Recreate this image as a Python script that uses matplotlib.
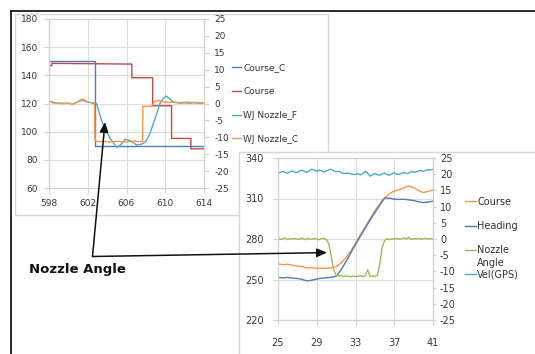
import matplotlib
matplotlib.use('Agg')
import matplotlib.pyplot as plt
from matplotlib.patches import Rectangle, FancyArrowPatch
from matplotlib.lines import Line2D

plt.rcParams['font.family'] = ['DejaVu Sans']
plt.rcParams['axes.unicode_minus'] = False

# ---------------- data: upper chart ----------------
top_x_ticks = [598, 602, 606, 610, 614]
top_left_ticks = [60, 80, 100, 120, 140, 160, 180]
right_ticks = [-25, -20, -15, -10, -5, 0, 5, 10, 15, 20, 25]

course_c_t = [598, 602.7, 602.7, 614]
course_c_v = [150, 150, 90, 90]

course_t = [598, 598.3, 598.3, 606.55, 606.55, 608.7, 608.7, 610.65, 610.65, 612.65, 612.65, 614]
course_v = [147, 147, 148.5, 148, 138.3, 138.3, 118.4, 118.4, 95.2, 95.2, 87.8, 87.8]

nozzle_f_t = [598, 598.5, 599, 599.5, 600, 600.5, 601, 601.5, 602, 602.5, 602.9,
              603.26, 603.6, 604.3, 605.0, 605.4, 605.85, 606.2, 606.55, 607.05, 607.57,
              608.0, 608.4, 608.76, 609.1, 609.45, 609.8, 610.07, 610.4, 610.8, 611.5,
              612, 612.5, 613, 613.5, 614]
nozzle_f_v = [0.7, 0.3, 0.1, 0.0, 0.1, -0.2, 0.5, 1.0, 0.4, 0.2, 0.0,
              -3.4, -6.4, -10.3, -13.0, -12.2, -10.6, -10.8, -11.3, -12.3, -12.0,
              -11.2, -9.0, -6.0, -3.2, 0.0, 1.5, 2.2, 1.5, 0.5, 0.1,
              0.2, 0.1, 0.2, 0.1, 0.2]

nozzle_c_t = [598, 598.25, 598.5, 598.75, 599, 599.25, 599.5, 599.75, 600, 600.25,
              600.5, 600.75, 601, 601.25, 601.55, 601.75, 602, 602.25, 602.5, 602.7,
              602.75, 603.2, 603.7, 604.2, 604.7, 605.2, 605.7, 606.2, 606.7, 607.2,
              607.67, 607.7, 608.2, 608.6, 608.9, 609.3, 609.7, 610.2, 610.8, 611.5,
              612.2, 612.9, 613.5, 614]
nozzle_c_v = [0.7, 0.4, 0.1, 0.2, 0.0, 0.1, 0.0, 0.1, 0.0, 0.0,
              -0.3, 0.2, 0.6, 1.1, 1.3, 0.8, 0.5, 0.3, 0.1, -0.2,
              -11.1, -11.3, -11.2, -11.4, -11.3, -11.2, -11.4, -11.3, -11.1, -11.3,
              -11.2, -0.8, -0.9, -0.8, 0.6, 0.9, 0.5, 0.4, 0.3, 0.3,
              0.4, 0.3, 0.3, 0.2]

# ---------------- data: lower chart ----------------
bot_x_ticks = [25, 29, 33, 37, 41]
bot_left_ticks = [220, 250, 280, 310, 340]

t_half = [25, 25.5, 26, 26.5, 27, 27.5, 28, 28.5, 29, 29.5, 30, 30.5, 31, 31.5, 32, 32.5,
          33, 33.5, 34, 34.5, 35, 35.5, 36, 36.5, 37, 37.5, 38, 38.5, 39, 39.5, 40, 40.5, 41]
course2_v = [261.5, 261.0, 261.3, 260.5, 260.0, 259.5, 258.5, 258.8, 258.2, 258.5, 258.3,
             258.6, 259.5, 262.0, 266.0, 271.0, 277.0, 283.0, 289.0, 295.0, 301.0, 306.0,
             310.5, 313.5, 315.5, 316.5, 318.0, 319.2, 318.0, 316.0, 314.3, 315.3, 316.3]
heading_v = [251.6, 251.2, 251.5, 251.0, 250.8, 250.0, 249.0, 249.5, 250.3, 251.0, 251.3,
             251.6, 252.5, 257.0, 263.0, 269.5, 276.0, 282.0, 288.0, 294.0, 299.5, 305.0,
             310.3, 310.3, 309.5, 309.3, 309.5, 309.0, 308.5, 307.6, 307.0, 307.4, 308.0]

t_quarter = [25 + 0.25 * i for i in range(65)]
nozzle2_v = [0.2, -0.1, 0.1, 0.3, -0.2, 0.1, 0.0, 0.2, -0.1, 0.0, 0.3, -0.2, 0.1, 0.0, -0.1, 0.2,
             0.0, -0.2, 0.1, 0.2, -0.3, -1.5, -5.5, -9.5, -11.2, -11.5, -11.3, -11.6, -11.4, -11.5,
             -11.7, -11.4, -11.6, -11.5, -11.3, -11.6, -11.4, -9.5, -11.5, -11.4, -11.6, -11.2,
             -8.0, -2.5, -0.6, 0.1, -0.2, 0.1, 0.0, 0.2, -0.1, 0.1, 0.3, 0.0, 0.5, -0.1, 0.1,
             0.0, 0.2, -0.1, 0.1, 0.2, 0.0, 0.1, 0.0]
vel_v = [20.3, 20.6, 20.9, 20.5, 20.3, 20.8, 21.0, 20.6, 20.5, 21.0, 21.2, 20.8, 20.6, 21.1,
         21.6, 21.2, 20.9, 21.3, 21.0, 20.7, 21.0, 21.4, 21.5, 21.0, 20.8, 20.9, 20.6, 20.3,
         20.2, 20.4, 20.1, 19.9, 20.0, 20.2, 19.8, 20.1, 20.9, 20.4, 19.4, 19.8, 20.2, 19.9,
         19.7, 20.0, 20.3, 19.9, 19.7, 20.1, 20.4, 20.0, 19.9, 20.3, 20.5, 20.2, 20.4, 20.8,
         20.6, 20.7, 21.0, 21.1, 20.9, 21.2, 21.4, 21.3, 21.5]

# ---------------- colours ----------------
C_BLUE = '#4a7ebb'
C_RED = '#be4b48'
C_TEAL = '#4bacc6'
C_ORANGE = '#f79646'
C_GREEN = '#9bbb59'
GRID = '#dcdcdc'
SPINE = '#d0d0d0'
LABEL = '#383838'

W, H = 535, 354
fig = plt.figure(figsize=(W / 100, H / 100), dpi=100)


def fx(px):
    return px / W


def fy(py):
    return 1 - py / H


def rect(x0, y0, x1, y1, z):
    r = Rectangle((fx(x0), fy(y1)), fx(x1) - fx(x0), fy(y0) - fy(y1), transform=fig.transFigure,
                  facecolor='white', edgecolor='#d6d6d6', lw=1.0, zorder=z)
    fig.add_artist(r)


# outer black frame (top and left visible)
fig.add_artist(Line2D([fx(11), 1.01], [fy(11), fy(11)], transform=fig.transFigure, color='#1a1a1a', lw=1.3, zorder=0.05))
fig.add_artist(Line2D([fx(11), fx(11)], [fy(11), -0.01], transform=fig.transFigure, color='#1a1a1a', lw=1.3, zorder=0.05))

rect(15, 14, 328, 215, 0.1)
rect(239, 152, 545, 365, 0.3)


def style_axes(ax, axr, xt, lt, fs, lpad, xpad, rpad, rlen):
    for a in (ax, axr):
        for s in a.spines.values():
            s.set_color(SPINE)
            s.set_linewidth(0.8)
    ax.patch.set_visible(False)
    ax.set_axisbelow(True)
    ax.grid(True, color=GRID, lw=0.8)
    ax.set_xticks(xt)
    ax.set_yticks(lt)
    axr.set_yticks(right_ticks)
    ax.tick_params(axis='y', length=3.5, color=SPINE, pad=lpad, labelsize=fs, labelcolor=LABEL)
    ax.tick_params(axis='x', length=3.5, color=SPINE, pad=xpad, labelsize=fs, labelcolor=LABEL)
    axr.tick_params(axis='y', length=rlen, color=SPINE, pad=rpad, labelsize=fs, labelcolor=LABEL)


# ---------------- upper chart ----------------
ax1 = fig.add_axes([fx(49), fy(188), fx(204) - fx(49), fy(19) - fy(188)])
ax1.set_zorder(0.2)
ax1r = ax1.twinx()
ax1r.set_zorder(0.21)
LW = 1.0
l1, = ax1.plot(course_c_t, course_c_v, color=C_BLUE, lw=LW, label='Course_C')
l2, = ax1.plot(course_t, course_v, color=C_RED, lw=LW, label='Course')
l3, = ax1r.plot(nozzle_f_t, nozzle_f_v, color=C_TEAL, lw=LW, label='WJ Nozzle_F')
l4, = ax1r.plot(nozzle_c_t, nozzle_c_v, color=C_ORANGE, lw=LW, label='WJ Nozzle_C')
ax1.set_xlim(598, 614)
ax1.set_ylim(60, 180)
ax1r.set_ylim(-25, 25)
style_axes(ax1, ax1r, top_x_ticks, top_left_ticks, 6.5, 4.5, 4.2, 4.0, 3.5)

fig.legend([l1, l2, l3, l4], [l.get_label() for l in (l1, l2, l3, l4)], loc='upper left',
           bbox_to_anchor=(fx(232), fy(62.7)), bbox_transform=fig.transFigure, frameon=False,
           borderpad=0, borderaxespad=0, handlelength=1.0, handletextpad=0.25, labelspacing=1.66,
           fontsize=6.5, labelcolor='#333333')

# ---------------- lower chart ----------------
ax2 = fig.add_axes([fx(278), fy(320), fx(433) - fx(278), fy(158) - fy(320)])
ax2.set_zorder(0.4)
ax2r = ax2.twinx()
ax2r.set_zorder(0.41)
m1, = ax2.plot(t_half, course2_v, color=C_ORANGE, lw=LW, label='Course')
m2, = ax2.plot(t_half, heading_v, color=C_BLUE, lw=LW, label='Heading')
m3, = ax2r.plot(t_quarter, nozzle2_v, color=C_GREEN, lw=LW, label='Nozzle')
m4, = ax2r.plot(t_quarter, vel_v, color=C_TEAL, lw=LW, label='Vel(GPS)')
ax2.set_xlim(25, 41)
ax2.set_ylim(220, 340)
ax2r.set_ylim(-25, 25)
style_axes(ax2, ax2r, bot_x_ticks, bot_left_ticks, 7, 7, 9.2, 2.5, 2.5)

fig.legend([m1, m2, m3, m4], [m.get_label() for m in (m1, m2, m3, m4)], loc='upper left',
           bbox_to_anchor=(fx(465), fy(196.7)), bbox_transform=fig.transFigure, frameon=False,
           borderpad=0, borderaxespad=0, handlelength=1.13, handletextpad=0.12, labelspacing=1.47,
           fontsize=7, labelcolor='#333333')
fig.text(fx(477), fy(263.0), 'Angle', fontsize=7, color='#333333', va='center', ha='left', zorder=6)

# ---------------- annotation ----------------
style = '-|>,head_length=6,head_width=2.6'
fig.add_artist(FancyArrowPatch(posA=(fx(92.5), fy(256.5)), posB=(fx(105), fy(122)),
                               transform=fig.transFigure, arrowstyle=style, mutation_scale=1,
                               lw=1.1, color='#111111', shrinkA=0, shrinkB=0, zorder=6))
fig.add_artist(FancyArrowPatch(posA=(fx(92.5), fy(256.5)), posB=(fx(327), fy(252.6)),
                               transform=fig.transFigure, arrowstyle=style, mutation_scale=1,
                               lw=1.1, color='#111111', shrinkA=0, shrinkB=0, zorder=6))
fig.text(fx(29), fy(269), 'Nozzle Angle', fontsize=9.5, fontweight='bold', color='#111111',
         va='center', ha='left', zorder=6)

fig.savefig('out.png', dpi=100)
